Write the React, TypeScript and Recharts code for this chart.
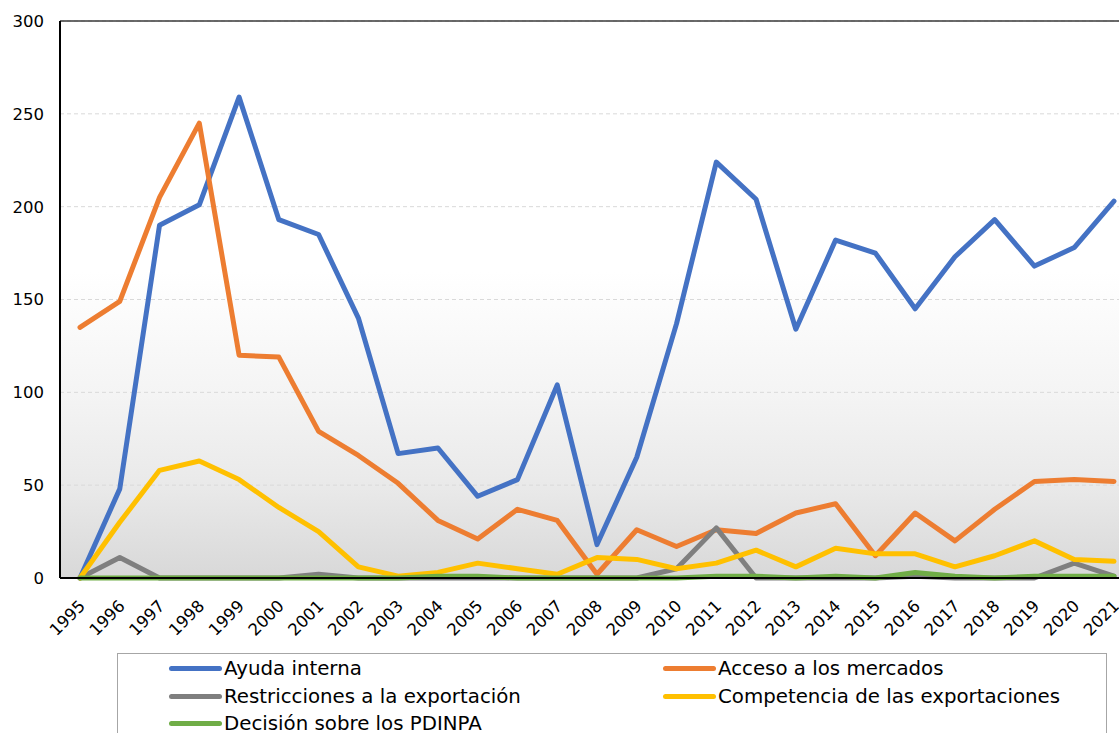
import { CartesianGrid, Line, LineChart, ReferenceLine, XAxis, YAxis } from "recharts";

const years = [
  "1995", "1996", "1997", "1998", "1999", "2000", "2001", "2002", "2003", "2004", "2005", "2006", "2007", "2008",
  "2009", "2010", "2011", "2012", "2013", "2014", "2015", "2016", "2017", "2018", "2019", "2020", "2021",
];
const ayudaInterna = [0, 48, 190, 201, 259, 193, 185, 140, 67, 70, 44, 53, 104, 18, 65, 137, 224, 204, 134, 182, 175, 145, 173, 193, 168, 178, 203];
const accesoMercados = [135, 149, 205, 245, 120, 119, 79, 66, 51, 31, 21, 37, 31, 2, 26, 17, 26, 24, 35, 40, 12, 35, 20, 37, 52, 53, 52];
const restricciones = [0, 11, 0, 0, 0, 0, 2, 0, 0, 0, 0, 0, 0, 0, 0, 5, 27, 0, 0, 0, 0, 1, 0, 0, 0, 8, 1];
const competencia = [0, 30, 58, 63, 53, 38, 25, 6, 1, 3, 8, 5, 2, 11, 10, 5, 8, 15, 6, 16, 13, 13, 6, 12, 20, 10, 9];
const pdinpa = [0, 0, 0, 0, 0, 0, 0, 0, 0, 1, 1, 0, 0, 0, 0, 0, 1, 1, 0, 1, 0, 3, 1, 0, 1, 1, 1];
const yTicks = [0, 50, 100, 150, 200, 250, 300];

const series = [
  { key: "ayuda", name: "Ayuda interna", color: "#4472C4", values: ayudaInterna },
  { key: "acceso", name: "Acceso a los mercados", color: "#ED7D31", values: accesoMercados },
  { key: "restricciones", name: "Restricciones a la exportación", color: "#7F7F7F", values: restricciones },
  { key: "competencia", name: "Competencia de las exportaciones", color: "#FFC000", values: competencia },
  { key: "pdinpa", name: "Decisión sobre los PDINPA", color: "#70AD47", values: pdinpa },
];

const data = years.map((year, i) => {
  const row: Record<string, string | number> = { year };
  series.forEach((s) => (row[s.key] = s.values[i]));
  return row;
});

const font = "'DejaVu Sans', Verdana, sans-serif";

function YearTick({ x, y, payload }: any) {
  return (
    <g transform={`translate(${x + 2},${y + 25})`}>
      <text textAnchor="end" dy="0.35em" transform="rotate(-45)" fontSize={16.5} fontFamily={font} fill="#000">
        {payload.value}
      </text>
    </g>
  );
}

// legend positions: two columns, three rows
const legendCols = [169, 663];
const legendRows = [668, 696, 723];

export default function App() {
  return (
    <div style={{ position: "fixed", left: 0, top: 0, width: 1119, height: 733, overflow: "hidden", background: "#fff" }}>
      <LineChart width={1140} height={733} data={data} margin={{ top: 21, right: 6, left: 0, bottom: 95 }}>
        <defs>
          <linearGradient id="plotBg" x1="0" y1="0" x2="0" y2="1">
            <stop offset="0%" stopColor="#ffffff" />
            <stop offset="45%" stopColor="#ffffff" />
            <stop offset="67%" stopColor="#f4f4f4" />
            <stop offset="84%" stopColor="#e9e9e9" />
            <stop offset="100%" stopColor="#d8d8d8" />
          </linearGradient>
        </defs>
        <CartesianGrid vertical={false} stroke="#d9d9d9" strokeDasharray="4 3" fill="url(#plotBg)" />
        <XAxis
          dataKey="year"
          padding={{ left: 20, right: 20 }}
          axisLine={{ stroke: "#000", strokeWidth: 2 }}
          tickLine={false}
          tickSize={0}
          tickMargin={0}
          interval={0}
          height={60}
          tick={<YearTick />}
        />
        <YAxis
          width={60}
          domain={[0, 300]}
          ticks={yTicks}
          axisLine={{ stroke: "#000", strokeWidth: 2 }}
          tickLine={false}
          tickMargin={10}
          tick={{ fontSize: 16.5, fontFamily: font, fill: "#000" }}
        />
        <ReferenceLine y={300} stroke="#3a3a3a" strokeWidth={1.5} />
        {series.map((s) => (
          <Line
            key={s.key}
            type="linear"
            dataKey={s.key}
            name={s.name}
            stroke={s.color}
            strokeWidth={5}
            strokeLinecap="round"
            strokeLinejoin="round"
            dot={false}
            activeDot={false}
            isAnimationActive={false}
          />
        ))}
      </LineChart>
      <div
        style={{
          position: "absolute",
          left: 117,
          top: 653,
          width: 990,
          height: 120,
          border: "1px solid #a6a6a6",
          boxSizing: "border-box",
        }}
      />
      {series.map((s, i) => (
        <div
          key={s.key}
          style={{
            position: "absolute",
            left: legendCols[i % 2],
            top: legendRows[Math.floor(i / 2)] - 14,
            height: 28,
            display: "flex",
            alignItems: "center",
            fontFamily: font,
            fontSize: 19.8,
            color: "#000",
            whiteSpace: "nowrap",
          }}
        >
          <span style={{ display: "inline-block", width: 53, height: 5, borderRadius: 3, background: s.color, marginRight: 2 }} />
          <span>{s.name}</span>
        </div>
      ))}
    </div>
  );
}
